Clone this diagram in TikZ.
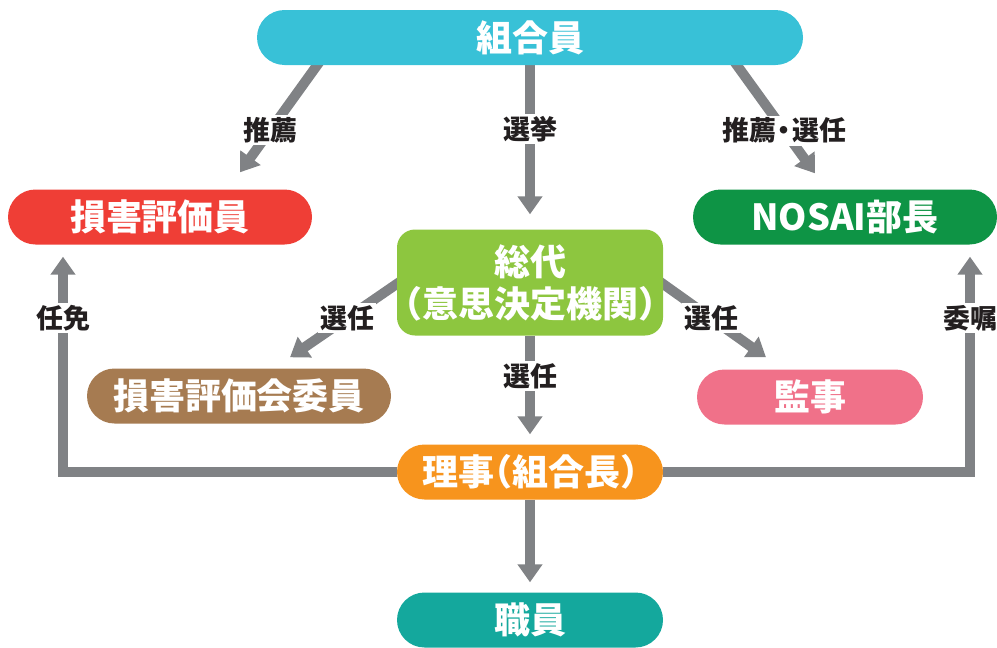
\documentclass[tikz,border=0pt]{standalone}
\usepackage{fontspec}
\setmainfont{Noto Sans CJK JP}[BoldFont={Noto Sans CJK JP Black}]
\usetikzlibrary{arrows.meta,backgrounds,calc}

\definecolor{kumiaicol}{HTML}{38C1D7}
\definecolor{hyokacol}{HTML}{EF3E36}
\definecolor{nosaicol}{HTML}{0E9445}
\definecolor{sodaicol}{HTML}{8DC63F}
\definecolor{iincol}{HTML}{A67B51}
\definecolor{kanjicol}{HTML}{F07189}
\definecolor{rijicol}{HTML}{F7941D}
\definecolor{shokuincol}{HTML}{14A89D}
\definecolor{linecol}{HTML}{808285}
\definecolor{inkcol}{HTML}{231F20}

\tikzset{
  box/.style={rectangle, rounded corners=27.5pt, minimum height=55pt, inner sep=0pt,
    text=white, align=center, font=\bfseries\fontsize{36}{42}\selectfont},
  lbl/.style={fill=white, inner sep=2pt, text=inkcol,
    font=\bfseries\fontsize{27}{30}\selectfont},
  link/.style={draw=linecol, line width=10pt, -{Triangle[width=24pt,length=18pt]}},
}

\begin{document}
\begin{tikzpicture}[x=1pt,y=1pt,yscale=-1]
  \useasboundingbox (0,0) rectangle (997,648);

  % Boxes
  \node[box, fill=kumiaicol, minimum width=546pt] (kumiaiin) at (530,37.5) {組合員};
  \node[box, fill=hyokacol, minimum width=304pt] (hyokain) at (160,217) {損害評価員};
  \node[box, fill=nosaicol, minimum width=304pt] (bucho) at (845,217) {NOSAI部長};
  \node[box, fill=sodaicol, rounded corners=18pt, minimum width=266pt, minimum height=106pt]
    (sodai) at (530,282.5) {総代\\\kern-.5em（意思決定機関）\kern-.5em};
  \node[box, fill=iincol, minimum width=304pt] (iin) at (239,396) {損害評価会委員};
  \node[box, fill=kanjicol, minimum width=226pt] (kanji) at (810,397) {監事};
  \node[box, fill=rijicol, minimum width=266pt] (riji) at (530,472) {理事\kern-.5em（組合長）\kern-.5em};
  \node[box, fill=shokuincol, minimum width=266pt] (shokuin) at (530,620) {職員};

  \begin{scope}[on background layer]
    % from 組合員
    \draw[link] ($(kumiaiin.south)+(-210,-4)$) -- node[lbl, pos=0.62] {推薦}
      ($(hyokain.north)+(80,-17)$);
    \draw[link] (kumiaiin.south) -- node[lbl, pos=0.43] {選挙}
      ($(sodai.north)+(0,-15)$);
    \draw[link] ($(kumiaiin.south)+(204,-4)$) -- node[lbl, pos=0.62] {推薦\kern-.2em・\kern-.2em選任}
      ($(bucho.north)+(-30,-16)$);
    % from 総代
    \draw[link] ($(sodai.west)+(5,-2)$) -- node[lbl, pos=0.49] {選任}
      ($(iin.north)+(51,-11)$);
    \draw[link] ($(sodai.east)+(-5,-2)$) -- node[lbl, pos=0.49] {選任}
      ($(kanji.north)+(-44,-12)$);
    \draw[link] (sodai.south) -- node[lbl, pos=0.41] {選任}
      ($(riji.north)+(0,-10)$);
    % from 理事
    \draw[link] (riji.south) -- ($(shokuin.north)+(0,-10)$);
    \draw[link] (riji.west) -| node[lbl, pos=0.857] {任免}
      ($(hyokain.south)+(-97,12)$);
    \draw[link] (riji.east) -| node[lbl, pos=0.857] {委嘱}
      ($(bucho.south)+(125,12)$);
  \end{scope}
\end{tikzpicture}
\end{document}
